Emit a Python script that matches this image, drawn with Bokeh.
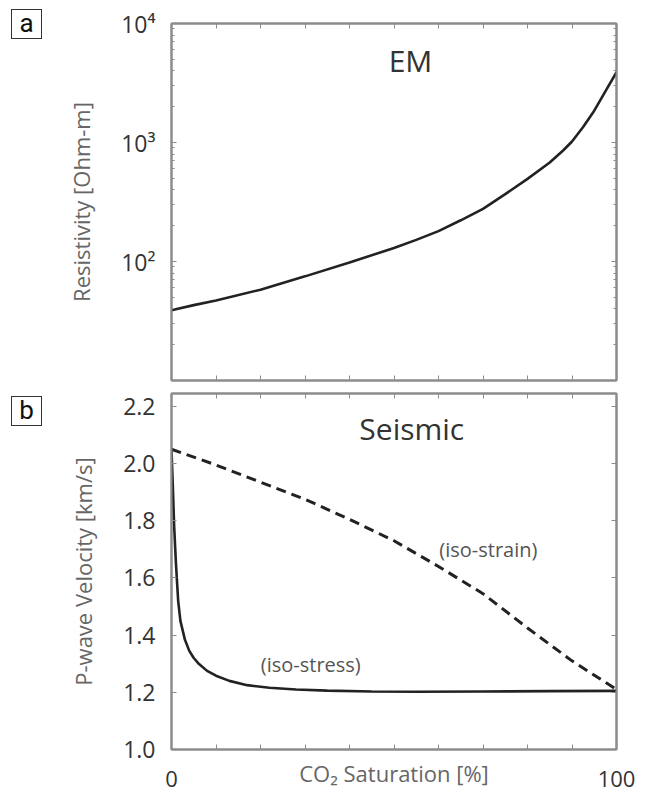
from bokeh.plotting import figure
from bokeh.layouts import column, row
from bokeh.models import Range1d, FixedTicker, LinearAxis, LogAxis, Label, Div
from bokeh.embed import file_html
from bokeh.resources import INLINE

# ---------------- data ----------------
saturation_em = [0, 5, 10, 20, 30, 40, 50, 55, 60, 65, 70, 75, 80, 85, 88, 90, 92.5, 95, 97.5, 100]
resistivity = [39, 43, 47, 58, 75, 98, 130, 152, 180, 222, 277, 368, 495, 680, 857, 1020,
               1350, 1850, 2690, 3900]

saturation_strain = [0, 10, 20, 30, 40, 50, 60, 70, 80, 90, 100]
vp_iso_strain = [2.05, 1.995, 1.935, 1.875, 1.805, 1.73, 1.64, 1.545, 1.425, 1.31, 1.21]

saturation_stress = [0, 0.3, 0.6, 1, 1.5, 2, 3, 4, 5, 6, 8, 10, 13, 17, 22, 28, 35,
                     45, 55, 70, 85, 100]
vp_iso_stress = [2.05, 1.92, 1.78, 1.65, 1.52, 1.45, 1.385, 1.345, 1.32, 1.302, 1.275,
                 1.258, 1.24, 1.225, 1.216, 1.21, 1.206, 1.203, 1.202, 1.203, 1.204, 1.205]

x_ticks = [0, 10, 20, 30, 40, 50, 60, 70, 80, 90, 100]
x_label_ticks = [0, 100]
em_major_ticks = [100, 1000, 10000]
em_tick_labels = {100: "10²", 1000: "10³", 10000: "10⁴"}
em_minor_ticks = [m * d for d in (10, 100, 1000) for m in range(2, 10)]
vp_ticks = [1.0, 1.2, 1.4, 1.6, 1.8, 2.0, 2.2]
vp_tick_labels = {1.0: "1.0", 1.2: "1.2", 1.4: "1.4", 1.6: "1.6", 1.8: "1.8", 2.0: "2.0", 2.2: "2.2"}
panel_names = ["a", "b"]

FONT = "Open Sans"
AXC = "#8c8c8c"
TICK_FS = "23px"
TAG_W = 42  # width taken by the panel tag column


def style_axis(ax, show_labels=True):
    ax.axis_line_color = AXC
    ax.axis_line_width = 2
    ax.major_tick_line_color = AXC
    ax.minor_tick_line_color = AXC
    ax.major_tick_in = 5
    ax.major_tick_out = 0
    ax.minor_tick_in = 3
    ax.minor_tick_out = 0
    ax.major_label_text_font = FONT
    ax.major_label_text_color = "#333333"
    if show_labels:
        ax.major_label_text_font_size = TICK_FS
        ax.major_label_standoff = 16
    else:
        ax.major_label_text_font_size = "1px"
        ax.major_label_text_alpha = 0
        ax.major_label_standoff = 0
    ax.axis_label_text_font = FONT
    ax.axis_label_text_font_style = "normal"
    ax.axis_label_text_color = "#666666"
    ax.axis_label_text_font_size = "22px"


def x_ticker():
    return FixedTicker(ticks=x_ticks)


def tag(name):
    html = ('<div style="width:31px;height:30px;box-sizing:border-box;'
            'border:1px solid #333333;background:white;color:#111111;'
            "font-family:'Liberation Sans Narrow',Roboto,sans-serif;font-size:26px;"
            f'line-height:27px;text-align:center;">{name}</div>')
    return Div(text=html, width=31, height=30, margin=(9, 0, 0, 11))


# ---------------- panel a (EM) ----------------
p1 = figure(width=648 - TAG_W, height=387, y_axis_type="log",
            x_range=Range1d(0, 100), y_range=Range1d(10, 10000),
            output_backend="svg", toolbar_location=None,
            min_border_left=171 - TAG_W, min_border_right=32, min_border_top=23, min_border_bottom=7)
p1.xgrid.visible = False
p1.ygrid.visible = False
p1.outline_line_color = AXC
p1.outline_line_width = 2

p1.xaxis.ticker = x_ticker()
style_axis(p1.xaxis[0], show_labels=False)
p1.yaxis.ticker = FixedTicker(ticks=em_major_ticks, minor_ticks=em_minor_ticks)
p1.yaxis.major_label_overrides = em_tick_labels
style_axis(p1.yaxis[0])
p1.yaxis.axis_label = "Resistivity [Ohm-m]"
p1.yaxis.axis_label_standoff = 22

top1 = LinearAxis(ticker=x_ticker())
style_axis(top1, show_labels=False)
p1.add_layout(top1, "above")
right1 = LogAxis(ticker=FixedTicker(ticks=em_major_ticks, minor_ticks=em_minor_ticks))
style_axis(right1, show_labels=False)
p1.add_layout(right1, "right")

p1.line(saturation_em, resistivity, line_color="#222222", line_width=2.6)
p1.add_layout(Label(x=53.7, y=4900, text="EM", text_font=FONT, text_font_size="30px",
                    text_color="#333333", text_align="center", text_baseline="middle"))

# ---------------- panel b (Seismic) ----------------
p2 = figure(width=648 - TAG_W, height=407,
            x_range=Range1d(0, 100), y_range=Range1d(1.0, 2.245),
            output_backend="svg", toolbar_location=None,
            min_border_left=171 - TAG_W, min_border_right=32, min_border_top=6, min_border_bottom=45)
p2.xgrid.visible = False
p2.ygrid.visible = False
p2.outline_line_color = AXC
p2.outline_line_width = 2

p2.xaxis.ticker = FixedTicker(ticks=x_label_ticks, minor_ticks=x_ticks)
style_axis(p2.xaxis[0])
p2.xaxis.minor_tick_in = 5
p2.xaxis.major_label_text_font_size = "22px"
p2.xaxis.major_label_standoff = 21
p2.xaxis.axis_label = "CO₂ Saturation [%]"
p2.xaxis.axis_label_standoff = -32
p2.yaxis.ticker = FixedTicker(ticks=vp_ticks)
p2.yaxis.major_label_overrides = vp_tick_labels
style_axis(p2.yaxis[0])
p2.yaxis.axis_label = "P-wave Velocity [km/s]"
p2.yaxis.axis_label_standoff = 22

top2 = LinearAxis(ticker=x_ticker())
style_axis(top2, show_labels=False)
p2.add_layout(top2, "above")
right2 = LinearAxis(ticker=FixedTicker(ticks=vp_ticks))
style_axis(right2, show_labels=False)
p2.add_layout(right2, "right")

p2.line(saturation_strain, vp_iso_strain, line_color="#222222", line_width=3, line_dash="10 6")
p2.line(saturation_stress, vp_iso_stress, line_color="#222222", line_width=2.6)

p2.add_layout(Label(x=54, y=2.123, text="Seismic", text_font=FONT, text_font_size="30px",
                    text_color="#333333", text_align="center", text_baseline="middle"))
p2.add_layout(Label(x=71.2, y=1.698, text="(iso-strain)", text_font=FONT,
                    text_font_size="20px", text_color="#555555",
                    text_align="center", text_baseline="middle"))
p2.add_layout(Label(x=31.3, y=1.298, text="(iso-stress)", text_font=FONT,
                    text_font_size="20px", text_color="#555555",
                    text_align="center", text_baseline="middle"))

layout = column(row(tag(panel_names[0]), p1, spacing=0),
                row(tag(panel_names[1]), p2, spacing=0), spacing=0)
open("out.html", "w").write(file_html(layout, INLINE))
